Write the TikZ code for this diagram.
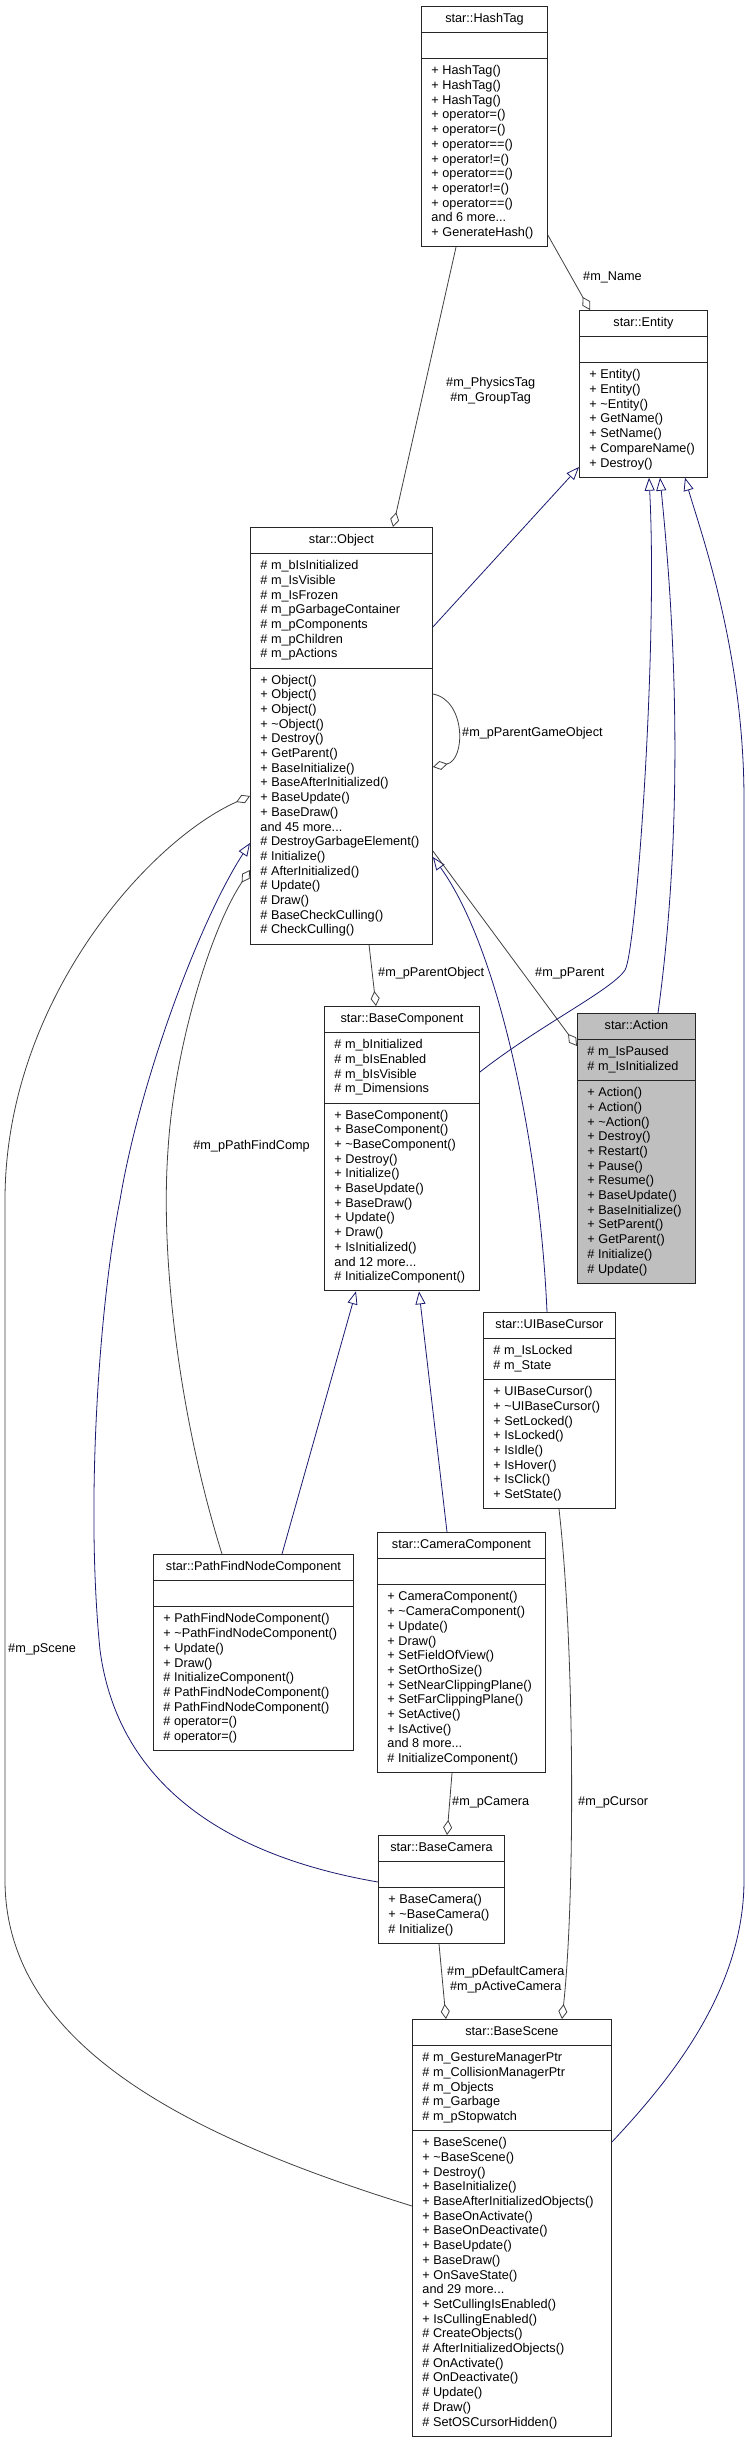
\documentclass[tikz,border=0pt]{standalone}
\usepackage{fontspec}
\setmainfont{Liberation Sans}
\usetikzlibrary{arrows.meta,shapes.multipart}
\definecolor{aggrgray}{HTML}{404040}
\definecolor{inhblue}{HTML}{191970}
\definecolor{curgray}{HTML}{BFBFBF}
\newcommand{\umlfont}{\fontsize{12.7}{14.7}\selectfont}

\begin{document}
\begin{tikzpicture}[x=1pt,y=-1pt,
  umlclass/.style={draw=black!85,line width=0.9pt,fill=white,anchor=north west,
    rectangle split,rectangle split parts=3,
    rectangle split part align={center,left,left},
    rectangle split empty part height=10.29pt,rectangle split empty part depth=4.41pt,
    align=left,font=\umlfont,inner xsep=10pt,inner ysep=5.3pt},
  inherit/.style={draw=inhblue,line width=0.8pt,
    -{Triangle[open,length=13pt,width=10pt,fill=white]}},
  member/.style={draw=aggrgray,line width=0.8pt,
    -{Diamond[open,length=15pt,width=9pt,fill=white]}},
  elabel/.style={font=\umlfont,inner sep=0pt,align=center}]
\useasboundingbox (0,0) rectangle (749,2440);

% ---------- classes ----------
\node[umlclass,minimum width=126pt] (hashtag) at (421,6)
  {\strut star::HashTag\strut
   \nodepart{two}\strut
   \nodepart{three}\strut + HashTag()\\+ HashTag()\\+ HashTag()\\+ operator=()\\
   + operator=()\\+ operator==()\\+ operator!=()\\+ operator==()\\+ operator!=()\\
   + operator==()\\and 6 more...\\+ GenerateHash()\strut};

\node[umlclass,minimum width=128pt] (entity) at (579,310)
  {\strut star::Entity\strut
   \nodepart{two}\strut
   \nodepart{three}\strut + Entity()\\+ Entity()\\+ \textasciitilde Entity()\\+ GetName()\\
   + SetName()\\+ CompareName()\\+ Destroy()\strut};

\node[umlclass,minimum width=182pt] (object) at (250,527)
  {\strut star::Object\strut
   \nodepart{two}\strut\# m\_bIsInitialized\\\# m\_IsVisible\\\# m\_IsFrozen\\
   \# m\_pGarbageContainer\\\# m\_pComponents\\\# m\_pChildren\\\# m\_pActions\strut
   \nodepart{three}\strut + Object()\\+ Object()\\+ Object()\\+ \textasciitilde Object()\\
   + Destroy()\\+ GetParent()\\+ BaseInitialize()\\+ BaseAfterInitialized()\\
   + BaseUpdate()\\+ BaseDraw()\\and 45 more...\\\# DestroyGarbageElement()\\
   \# Initialize()\\\# AfterInitialized()\\\# Update()\\\# Draw()\\
   \# BaseCheckCulling()\\\# CheckCulling()\strut};

\node[umlclass,minimum width=155pt] (basecomp) at (324,1006)
  {\strut star::BaseComponent\strut
   \nodepart{two}\strut\# m\_bInitialized\\\# m\_bIsEnabled\\\# m\_bIsVisible\\
   \# m\_Dimensions\strut
   \nodepart{three}\strut + BaseComponent()\\+ BaseComponent()\\
   + \textasciitilde BaseComponent()\\+ Destroy()\\+ Initialize()\\+ BaseUpdate()\\
   + BaseDraw()\\+ Update()\\+ Draw()\\+ IsInitialized()\\and 12 more...\\
   \# InitializeComponent()\strut};

\node[umlclass,minimum width=118pt,fill=curgray] (action) at (577,1013)
  {\strut star::Action\strut
   \nodepart{two}\strut\# m\_IsPaused\\\# m\_IsInitialized\strut
   \nodepart{three}\strut + Action()\\+ Action()\\+ \textasciitilde Action()\\+ Destroy()\\
   + Restart()\\+ Pause()\\+ Resume()\\+ BaseUpdate()\\+ BaseInitialize()\\
   + SetParent()\\+ GetParent()\\\# Initialize()\\\# Update()\strut};

\node[umlclass,minimum width=132pt] (cursor) at (483,1312)
  {\strut star::UIBaseCursor\strut
   \nodepart{two}\strut\# m\_IsLocked\\\# m\_State\strut
   \nodepart{three}\strut + UIBaseCursor()\\+ \textasciitilde UIBaseCursor()\\
   + SetLocked()\\+ IsLocked()\\+ IsIdle()\\+ IsHover()\\+ IsClick()\\
   + SetState()\strut};

\node[umlclass,minimum width=200pt] (pathfind) at (153,1554)
  {\strut star::PathFindNodeComponent\strut
   \nodepart{two}\strut
   \nodepart{three}\strut + PathFindNodeComponent()\\
   + \textasciitilde PathFindNodeComponent()\\+ Update()\\+ Draw()\\
   \# InitializeComponent()\\\# PathFindNodeComponent()\\\# PathFindNodeComponent()\\
   \# operator=()\\\# operator=()\strut};

\node[umlclass,minimum width=168pt] (camcomp) at (377,1532)
  {\strut star::CameraComponent\strut
   \nodepart{two}\strut
   \nodepart{three}\strut + CameraComponent()\\+ \textasciitilde CameraComponent()\\
   + Update()\\+ Draw()\\+ SetFieldOfView()\\+ SetOrthoSize()\\
   + SetNearClippingPlane()\\+ SetFarClippingPlane()\\+ SetActive()\\
   + IsActive()\\and 8 more...\\\# InitializeComponent()\strut};

\node[umlclass,minimum width=126pt] (basecam) at (378,1835)
  {\strut star::BaseCamera\strut
   \nodepart{two}\strut
   \nodepart{three}\strut + BaseCamera()\\+ \textasciitilde BaseCamera()\\
   \# Initialize()\strut};

\node[umlclass,minimum width=199pt] (basescene) at (412,2019)
  {\strut star::BaseScene\strut
   \nodepart{two}\strut\# m\_GestureManagerPtr\\\# m\_CollisionManagerPtr\\
   \# m\_Objects\\\# m\_Garbage\\\# m\_pStopwatch\strut
   \nodepart{three}\strut + BaseScene()\\+ \textasciitilde BaseScene()\\+ Destroy()\\
   + BaseInitialize()\\+ BaseAfterInitializedObjects()\\+ BaseOnActivate()\\
   + BaseOnDeactivate()\\+ BaseUpdate()\\+ BaseDraw()\\+ OnSaveState()\\
   and 29 more...\\+ SetCullingIsEnabled()\\+ IsCullingEnabled()\\
   \# CreateObjects()\\\# AfterInitializedObjects()\\\# OnActivate()\\
   \# OnDeactivate()\\\# Update()\\\# Draw()\\\# SetOSCursorHidden()\strut};

% ---------- inheritance ----------
\draw[inherit] ([yshift=-100pt]object.north east) -- ([yshift=-157pt]entity.north west);
\draw[inherit] ([yshift=-66pt]basecomp.north east)
  .. controls (540,1025) and (612,990) .. (625,970)
  .. controls (636,953) and (658,650) .. ([xshift=70pt]entity.south west);
\draw[inherit] ([xshift=81pt]action.north west)
  .. controls (690,780) and (668,560) .. ([xshift=81pt]entity.south west);
\draw[inherit] ([yshift=-123pt]basescene.north east)
  .. controls (670,2080) and (744,1990) .. (744,1880) -- (744,800)
  .. controls (744,650) and (700,530) .. ([xshift=106pt]entity.south west);
\draw[inherit] ([yshift=-47pt]basecam.north west)
  .. controls (250,1860) and (120,1800) .. (100,1650)
  .. controls (85,1500) and (100,1300) .. (120,1200)
  .. controls (140,1080) and (200,920) .. ([yshift=-316pt]object.north west);
\draw[inherit] ([xshift=64pt]cursor.north west)
  .. controls (540,1150) and (500,950) .. ([yshift=-330pt]object.north east);
\draw[inherit] ([xshift=129pt]pathfind.north west) -- ([xshift=32pt]basecomp.south west);
\draw[inherit] ([xshift=70pt]camcomp.north west) -- ([xshift=95pt]basecomp.south west);

% ---------- members ----------
\draw[member] ([xshift=35pt]hashtag.south west) -- ([xshift=143pt]object.north west);
\draw[member] ([yshift=12pt]hashtag.south east) -- ([xshift=11pt]entity.north west);
\draw[member] ([yshift=-167pt]object.north east)
  .. controls +(33,6) and +(33,-7) .. ([yshift=-240pt]object.north east);
\draw[member] ([xshift=119pt]object.south west) -- ([xshift=52pt]basecomp.north west);
\draw[member] ([yshift=-324pt]object.north east) -- ([yshift=-33pt]action.north west);
\draw[member] ([xshift=69pt]pathfind.north west)
  .. controls (180,1420) and (160,1260) .. (168,1150)
  .. controls (174,1050) and (210,930) .. ([yshift=-343pt]object.north west);
\draw[member] ([yshift=-187pt]basescene.north west)
  .. controls (200,2140) and (5,2050) .. (5,1880) -- (5,1200)
  .. controls (5,1000) and (150,840) .. ([yshift=-269pt]object.north west);
\draw[member] ([xshift=75pt]camcomp.south west) -- ([xshift=69pt]basecam.north west);
\draw[member] ([xshift=76pt]cursor.south west)
  .. controls (575,1650) and (575,1900) .. ([xshift=150pt]basescene.north west);
\draw[member] ([xshift=61pt]basecam.south west) -- ([xshift=34pt]basescene.north west);

% ---------- member labels ----------
\node[elabel,anchor=west] (lbltags) at (446,391) {\#m\_PhysicsTag\\\#m\_GroupTag};
\node[elabel,anchor=west] (lblname) at (583,277) {\#m\_Name};
\node[elabel,anchor=west] (lblparentgo) at (462,733) {\#m\_pParentGameObject};
\node[elabel,anchor=west] (lblparentobj) at (378,973) {\#m\_pParentObject};
\node[elabel,anchor=west] (lblparent) at (535,973) {\#m\_pParent};
\node[elabel,anchor=east] (lblpathfind) at (310,1146) {\#m\_pPathFindComp};
\node[elabel,anchor=west] (lblscene) at (8,1649) {\#m\_pScene};
\node[elabel,anchor=west] (lblcamera) at (452,1802) {\#m\_pCamera};
\node[elabel,anchor=west] (lblcursor) at (578,1802) {\#m\_pCursor};
\node[elabel,anchor=west] (lblcams) at (447,1980) {\#m\_pDefaultCamera\\\#m\_pActiveCamera};
\end{tikzpicture}
\end{document}
